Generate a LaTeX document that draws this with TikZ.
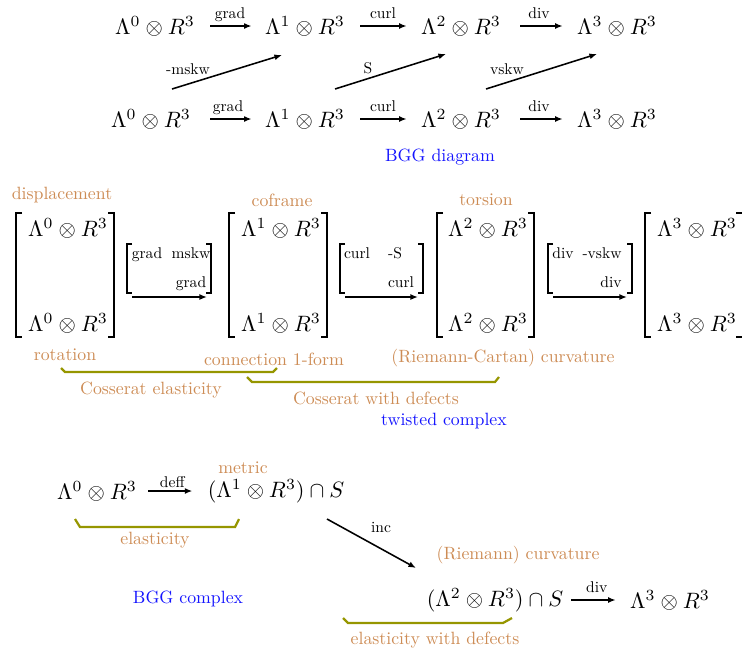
\documentclass[tikz,border=0pt]{standalone}
\usetikzlibrary{arrows.meta}
\definecolor{labtan}{RGB}{205,140,85}
\definecolor{braceolive}{RGB}{150,150,0}
\definecolor{ttlblue}{RGB}{20,20,255}
\newcommand\lamR[1]{$\Lambda^{#1}\otimes R^3$}
\begin{document}
\begin{tikzpicture}[x=0.45pt,y=-0.45pt,
  lab/.style={scale=0.7, text depth=0pt, inner sep=4.3pt},
  dlab/.style={scale=0.7, inner sep=0pt},
  ent/.style={scale=0.7, inner sep=0pt, anchor=base},
  note/.style={scale=0.8, text=labtan, inner sep=0pt},
  ttl/.style={scale=0.8, text=ttlblue, inner sep=0pt},
  arr/.style={-{Latex[length=3.4pt,width=2.7pt]}, line width=0.7pt},
  brk/.style={line width=0.9pt},
  brc/.style={line width=1pt, draw=braceolive},
]
\useasboundingbox (0,0) rectangle (742,649);

% ---------- BGG diagram ----------
\node (t0) at (155,26) {\lamR0};
\node (t1) at (305,26) {\lamR1};
\node (t2) at (461,26) {\lamR2};
\node (t3) at (617,26) {\lamR3};
\node (u0) at (151,119) {\lamR0};
\node (u1) at (305,119) {\lamR1};
\node (u2) at (461,119) {\lamR2};
\node (u3) at (617,119) {\lamR3};

\draw[arr, shorten <=3.5pt, shorten >=2.6pt] (t0) -- node[lab,above]{grad} (t1);
\draw[arr, shorten <=3.5pt, shorten >=3pt] (t1) -- node[lab,above]{curl} (t2);
\draw[arr, shorten <=5.3pt, shorten >=3pt] (t2) -- node[lab,above]{div} (t3);
\draw[arr, shorten <=5.2pt, shorten >=2.6pt] (u0) -- node[lab,above]{grad} (u1);
\draw[arr, shorten <=3.5pt, shorten >=3pt] (u1) -- node[lab,above]{curl} (u2);
\draw[arr, shorten <=5.3pt, shorten >=3pt] (u2) -- node[lab,above]{div} (u3);

\coordinate (d1s) at (172,89);  \coordinate (d1e) at (282,55);
\coordinate (d2s) at (335,89);  \coordinate (d2e) at (446,54);
\coordinate (d3s) at (486,89);  \coordinate (d3e) at (597,54);
\draw[arr] (d1s) -- (d1e);
\draw[arr] (d2s) -- (d2e);
\draw[arr] (d3s) -- (d3e);
\node[dlab] (l1) at (188,69) {-mskw};
\node[dlab] (l2) at (368,68) {S};
\node[dlab] (l3) at (507,69) {vskw};

\node[ttl] (bggd) at (440,157) {BGG diagram};

% ---------- twisted complex ----------
\node (m0a) at (68,228) {\lamR0};
\node (m0b) at (68,323) {\lamR0};
\node (m1a) at (281,228) {\lamR1};
\node (m1b) at (281,323) {\lamR1};
\node (m2a) at (488,228) {\lamR2};
\node (m2b) at (488,323) {\lamR2};
\node (m3a) at (697,228) {\lamR3};
\node (m3b) at (697,323) {\lamR3};

\draw[brk] (22,213) -- (16,213) -- (16,337) -- (22,337);
\draw[brk] (108,213) -- (114,213) -- (114,337) -- (108,337);
\draw[brk] (235,213) -- (229,213) -- (229,337) -- (235,337);
\draw[brk] (321,213) -- (327,213) -- (327,337) -- (321,337);
\draw[brk] (443,213) -- (437,213) -- (437,337) -- (443,337);
\draw[brk] (528,213) -- (534,213) -- (534,337) -- (528,337);
\draw[brk] (651,213) -- (645,213) -- (645,337) -- (651,337);
\draw[brk] (736,213) -- (742.5,213) -- (742.5,337) -- (736,337);

% small operator matrices
\draw[brk] (132,244) -- (127,244) -- (127,293) -- (132,293);
\draw[brk] (206,244) -- (211,244) -- (211,293) -- (206,293);
\draw[brk] (345,244) -- (340,244) -- (340,293) -- (345,293);
\draw[brk] (418,244) -- (423,244) -- (423,293) -- (418,293);
\draw[brk] (553,244) -- (548,244) -- (548,293) -- (553,293);
\draw[brk] (627,244) -- (632,244) -- (632,293) -- (627,293);

\node[ent] (o1a) at (147,258) {grad};
\node[ent] (o1b) at (191,258) {mskw};
\node[ent] (o1c) at (191,287) {grad};
\node[ent] (o2a) at (357,258) {curl};
\node[ent] (o2b) at (395,258) {-S};
\node[ent] (o2c) at (401,287) {curl};
\node[ent] (o3a) at (563,258) {div};
\node[ent] (o3b) at (602,258) {-vskw};
\node[ent] (o3c) at (611,287) {div};

\coordinate (a1s) at (132,297); \coordinate (a1e) at (207,297);
\coordinate (a2s) at (345,297); \coordinate (a2e) at (418,297);
\coordinate (a3s) at (553,297); \coordinate (a3e) at (627,297);
\draw[arr] (a1s) -- (a1e);
\draw[arr] (a2s) -- (a2e);
\draw[arr] (a3s) -- (a3e);

\node[note] (n1) at (62,195) {displacement};
\node[note] (n2) at (282,200) {coframe};
\node[note] (n3) at (486,200) {torsion};
\node[note] (n4) at (65,355) {rotation};
\node[note] (n5) at (274,359) {connection 1-form};
\node[note] (n6) at (503,358) {(Riemann-Cartan) curvature};

\draw[brc] (61,368) -- (65,372) -- (273,372) -- (277,368);
\draw[brc] (247,377) -- (252,382) -- (495,382) -- (499,377);
\node[note] (n7) at (151,390) {Cosserat elasticity};
\node[note] (n8) at (376,398) {Cosserat with defects};
\node[ttl] (twc) at (444,421) {twisted complex};

% ---------- BGG complex ----------
\node (c0) at (97,491) {\lamR0};
\node (c1) at (276,491) {$(\Lambda^1\otimes R^3)\cap S$};
\node (c2) at (495,600) {$(\Lambda^2\otimes R^3)\cap S$};
\node (c3) at (670,600) {\lamR3};

\draw[arr, shorten <=1.6pt, shorten >=3.4pt] (c0) -- node[lab,above,inner sep=1.9pt]{deff} (c1);
\draw[arr, shorten <=0pt, shorten >=3pt] (c2) -- node[lab,above]{div} (c3);
\coordinate (ins) at (327,519); \coordinate (ine) at (416,568);
\draw[arr] (ins) -- (ine);
\node[dlab] (l4) at (381,527) {inc};

\node[note] (n9) at (243,468) {metric};
\node[note] (n10) at (518,555) {(Riemann) curvature};
\draw[brc] (75,519) -- (80,527) -- (235,527) -- (239,519);
\node[note] (n11) at (155,540) {elasticity};
\draw[brc] (343,618) -- (348,623) -- (503,623) -- (512,618);
\node[note] (n12) at (435,640) {elasticity with defects};
\node[ttl] (bggc) at (188,599) {BGG complex};
\end{tikzpicture}
\end{document}
